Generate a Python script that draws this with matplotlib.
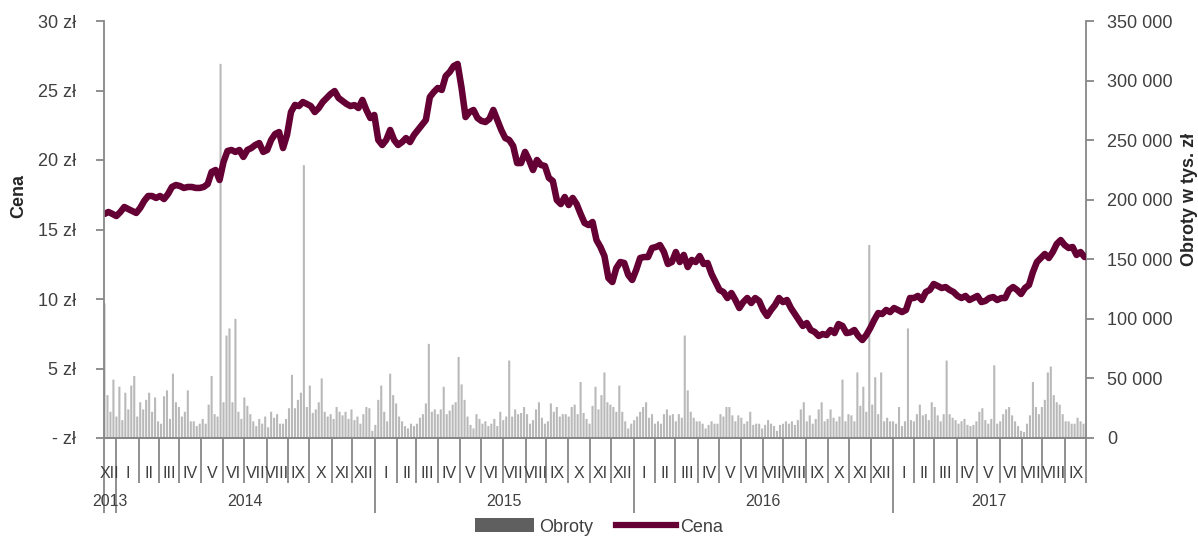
import numpy as np
import pandas as pd
import matplotlib
matplotlib.use("Agg")
import matplotlib.pyplot as plt
import matplotlib.transforms as mtransforms
from matplotlib.lines import Line2D
from matplotlib.patches import Patch

plt.rcParams['font.family'] = ['Liberation Sans', 'DejaVu Sans']

# Trading sessions covered by the chart
START, END = '2013-12-16', '2017-09-29'
PRICE_STEP = 4    # closing price every 4th session
VOLUME_STEP = 3   # turnover every 3rd session

# Closing price, zł
price = [
    16.12, 16.26, 16.12, 15.97, 16.26, 16.62, 16.47, 16.33, 16.19, 16.55,
    17.05, 17.41, 17.41, 17.27, 17.41, 17.19, 17.55, 18.06, 18.20, 18.13,
    17.99, 18.06, 18.06, 17.99, 17.99, 18.06, 18.27, 19.14, 19.28, 18.56,
    19.86, 20.65, 20.72, 20.58, 20.72, 20.22, 20.72, 20.86, 21.08, 21.22,
    20.58, 20.72, 21.44, 21.87, 22.01, 20.86, 21.80, 23.45, 23.96, 23.88,
    24.17, 24.03, 23.88, 23.45, 23.74, 24.17, 24.46, 24.75, 24.96, 24.46,
    24.24, 24.03, 23.88, 23.95, 23.74, 24.32, 23.60, 23.02, 23.24, 21.44,
    21.08, 21.44, 22.16, 21.44, 21.08, 21.29, 21.58, 21.29, 21.80, 22.16,
    22.52, 22.88, 24.53, 24.89, 25.18, 25.04, 26.04, 26.33, 26.76, 26.91,
    25.18, 23.09, 23.45, 23.60, 23.02, 22.81, 22.73, 22.95, 23.60, 22.88,
    22.16, 21.58, 21.44, 21.01, 19.78, 19.78, 20.58, 20.00, 19.28, 20.00,
    19.64, 19.57, 18.71, 18.49, 17.12, 16.83, 17.34, 16.76, 17.27, 16.83,
    16.12, 15.47, 15.32, 15.54, 14.24, 13.74, 13.09, 11.51, 11.22, 12.23,
    12.66, 12.59, 11.73, 11.37, 12.09, 12.95, 13.02, 13.02, 13.67, 13.74,
    13.88, 13.38, 12.52, 12.66, 13.38, 12.66, 13.17, 12.30, 12.81, 12.66,
    13.09, 12.52, 12.59, 11.80, 11.22, 10.65, 10.50, 10.07, 10.43, 9.93,
    9.35, 9.78, 10.07, 9.71, 10.07, 9.86, 9.21, 8.78, 9.21, 9.57,
    10.07, 9.78, 9.93, 9.35, 8.92, 8.49, 8.06, 8.27, 7.77, 7.63,
    7.34, 7.48, 7.41, 7.77, 7.55, 8.20, 8.06, 7.55, 7.60, 7.77,
    7.34, 7.05, 7.41, 7.91, 8.49, 8.99, 8.92, 9.21, 9.06, 9.35,
    9.21, 9.06, 9.21, 10.07, 10.07, 10.22, 9.93, 10.50, 10.65, 11.08,
    10.94, 10.79, 10.86, 10.65, 10.50, 10.22, 10.07, 10.22, 9.93, 10.07,
    10.22, 9.78, 9.86, 10.07, 10.14, 9.93, 10.07, 10.07, 10.65, 10.86,
    10.65, 10.36, 10.79, 11.01, 11.94, 12.66, 12.95, 13.24, 12.95, 13.38,
    13.96, 14.24, 13.88, 13.67, 13.74, 13.17, 13.38, 13.02,
]

# Turnover, thousands of zł
volume = [
    113000, 36000, 22000, 49000, 18000, 43000, 15000, 38000, 24000, 44000,
    52000, 18000, 30000, 24000, 32000, 38000, 22000, 34000, 14000, 12000,
    35000, 40000, 16000, 54000, 30000, 26000, 18000, 22000, 40000, 14000,
    14000, 10000, 12000, 16000, 12000, 28000, 52000, 20000, 18000, 314000,
    30000, 86000, 92000, 30000, 100000, 22000, 16000, 34000, 27000, 20000,
    14000, 10000, 16000, 12000, 18000, 9000, 22000, 17000, 20000, 12000,
    12000, 16000, 25000, 53000, 25000, 32000, 38000, 229000, 26000, 44000,
    21000, 24000, 30000, 50000, 22000, 18000, 20000, 16000, 26000, 22000,
    19000, 22000, 16000, 24000, 15000, 18000, 12000, 20000, 26000, 25000,
    6000, 11000, 32000, 44000, 22000, 14000, 54000, 36000, 29000, 18000,
    14000, 10000, 8000, 12000, 10000, 12000, 17000, 20000, 29000, 79000,
    22000, 24000, 20000, 24000, 43000, 20000, 23000, 28000, 30000, 68000,
    45000, 32000, 18000, 11000, 8000, 20000, 16000, 12000, 14000, 10000,
    12000, 16000, 10000, 22000, 15000, 18000, 65000, 18000, 24000, 20000,
    21000, 26000, 20000, 12000, 15000, 24000, 30000, 17000, 12000, 14000,
    29000, 22000, 26000, 18000, 20000, 20000, 18000, 26000, 28000, 20000,
    47000, 21000, 16000, 12000, 27000, 43000, 24000, 36000, 55000, 30000,
    28000, 26000, 22000, 44000, 22000, 14000, 8000, 12000, 15000, 18000,
    22000, 26000, 30000, 17000, 20000, 12000, 14000, 12000, 20000, 24000,
    19000, 20000, 14000, 20000, 17000, 86000, 40000, 22000, 17000, 14000,
    14000, 12000, 8000, 11000, 14000, 12000, 12000, 20000, 18000, 26000,
    26000, 19000, 14000, 19000, 17000, 12000, 14000, 22000, 11000, 12000,
    12000, 8000, 11000, 15000, 12000, 10000, 6000, 11000, 12000, 14000,
    12000, 14000, 11000, 15000, 24000, 30000, 14000, 19000, 12000, 16000,
    24000, 30000, 14000, 16000, 24000, 17000, 14000, 18000, 49000, 14000,
    20000, 19000, 14000, 55000, 27000, 43000, 22000, 162000, 28000, 51000,
    20000, 55000, 14000, 17000, 14000, 14000, 12000, 26000, 10000, 14000,
    92000, 15000, 14000, 20000, 28000, 19000, 20000, 15000, 30000, 26000,
    19000, 14000, 20000, 65000, 20000, 17000, 15000, 12000, 14000, 16000,
    11000, 10000, 11000, 14000, 22000, 25000, 15000, 12000, 16000, 61000,
    12000, 14000, 20000, 24000, 26000, 19000, 14000, 10000, 6000, 5000,
    12000, 19000, 47000, 26000, 20000, 26000, 32000, 55000, 60000, 36000,
    30000, 28000, 20000, 14000, 14000, 12000, 12000, 17000, 14000, 12000,
]

month_names = ['I', 'II', 'III', 'IV', 'V', 'VI',
               'VII', 'VIII', 'IX', 'X', 'XI', 'XII']
price_ticks = [0, 5, 10, 15, 20, 25, 30]
volume_ticks = [0, 50000, 100000, 150000, 200000, 250000, 300000, 350000]

PRICE_COLOR = '#650035'
BAR_COLOR = '#b9b9b9'
AXIS_COLOR = '#878787'
TEXT_COLOR = '#404040'

days = pd.bdate_range(START, END)
n = len(days)
x_price = np.arange(len(price)) * PRICE_STEP
x_vol = np.arange(len(volume)) * VOLUME_STEP

W, H = 1198, 537
fig = plt.figure(figsize=(W / 100, H / 100), dpi=100)
ax = fig.add_axes([104 / W, 99 / H, 982 / W, 417 / H])
ax_vol = ax.twinx()
ax.set_zorder(ax_vol.get_zorder() + 1)
ax.patch.set_visible(False)

bars = ax_vol.bar(x_vol, volume, width=2.1, color=BAR_COLOR, linewidth=0,
                  align='center')
for b in bars:
    b.set_snap(False)
ax.plot(x_price, price, color=PRICE_COLOR, lw=4.7,
        solid_joinstyle='round', solid_capstyle='round')

ax.set_xlim(-0.5, n - 0.5)
ax.set_ylim(0, 30)
ax_vol.set_ylim(0, 350000)

ax.set_yticks(price_ticks)
ax.set_yticklabels(['- zł' if v == 0 else f'{v} zł' for v in price_ticks])
ax_vol.set_yticks(volume_ticks)
ax_vol.set_yticklabels([f'{v:,}'.replace(',', ' ') for v in volume_ticks])
ax.set_xticks([])
ax_vol.set_xticks([])

for a in (ax, ax_vol):
    a.spines['top'].set_visible(False)
    for s in ('left', 'right', 'bottom'):
        a.spines[s].set_color(AXIS_COLOR)
        a.spines[s].set_linewidth(1.3)
ax.spines['right'].set_visible(False)
ax_vol.spines['left'].set_visible(False)

ax.tick_params(axis='y', direction='out', length=6, width=1.3, color=AXIS_COLOR,
               labelsize=13, labelcolor=TEXT_COLOR, pad=14)
ax_vol.tick_params(axis='y', direction='out', length=6, width=1.3, color=AXIS_COLOR,
                   labelsize=13, labelcolor=TEXT_COLOR, pad=9)

# Month / year category axis below the plot
trans = mtransforms.blended_transform_factory(ax.transData, ax.transAxes)
ax_h = 417.0
short_len = 45 / ax_h
long_len = 75 / ax_h
month_y = -35 / ax_h
year_y = -64 / ax_h

starts = [0] + [i for i in range(1, n) if days[i].month != days[i - 1].month]
bounds = [s - 0.5 for s in starts] + [n - 0.5]
for j, b in enumerate(bounds):
    is_long = j < len(starts) and (starts[j] == 0 or days[starts[j]].month == 1)
    ln = long_len if is_long else short_len
    ax.plot([b, b], [0, -ln], transform=trans, color=AXIS_COLOR, lw=1.3,
            clip_on=False, solid_capstyle='butt')
for j, s in enumerate(starts):
    mid = (bounds[j] + bounds[j + 1]) / 2
    ax.text(mid, month_y, month_names[days[s].month - 1], transform=trans,
            ha='center', va='center', fontsize=11.5, color=TEXT_COLOR)

years = sorted(set(days.year))
for yr in years:
    idx = np.where(days.year == yr)[0]
    mid = (idx[0] - 0.5 + idx[-1] + 0.5) / 2
    ax.text(mid, year_y, str(yr), transform=trans, ha='center', va='center',
            fontsize=11.5, color=TEXT_COLOR)

fig.text(19 / W, 1 - 196 / H, 'Cena', rotation=90, ha='center', va='center',
         fontsize=13, fontweight='bold', color='#262626')
fig.text(1189 / W, 1 - 199 / H, 'Obroty w tys. zł', rotation=90, ha='center',
         va='center', fontsize=13, fontweight='bold', color='#262626')

handles = [Patch(facecolor='#5f5f5f', edgecolor='none'),
           Line2D([], [], color=PRICE_COLOR, lw=4.5)]
leg = fig.legend(handles, ['Obroty', 'Cena'], loc='center',
                 bbox_to_anchor=(0.5, 1 - 527 / H), ncol=2, frameon=False,
                 fontsize=13, handlelength=3.3, handleheight=0.8,
                 columnspacing=1.3, handletextpad=0.25)
for t in leg.get_texts():
    t.set_color(TEXT_COLOR)

fig.savefig('out.png', dpi=100)
